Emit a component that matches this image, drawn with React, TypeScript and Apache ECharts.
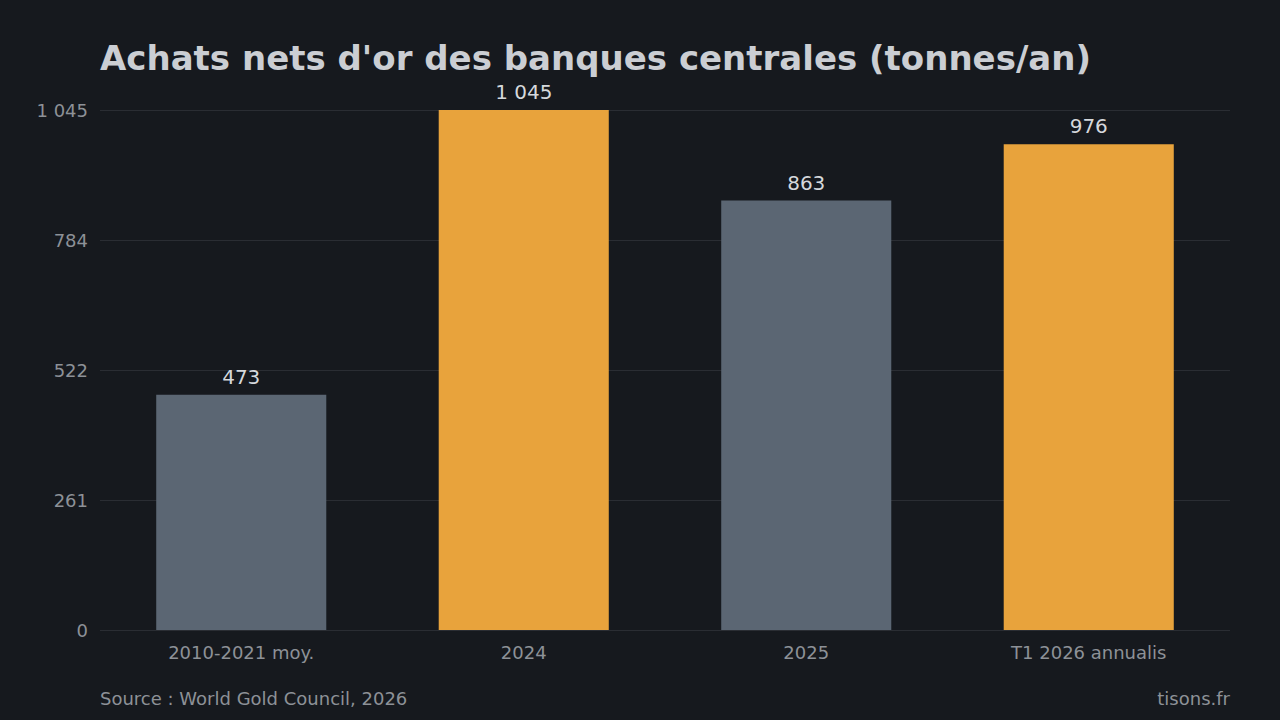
import React, { useEffect, useRef } from "react";
import * as echarts from "echarts";

const categories = ["2010-2021 moy.", "2024", "2025", "T1 2026 annualis"];
const values = [473, 1045, 863, 976];
const barColors = ["#5b6673", "#e8a33c", "#5b6673", "#e8a33c"];
const yTickLabels = ["0", "261", "522", "784", "1 045"];
const yMax = 1045;
const yInterval = yMax / 4;

const fmt = (v: number) => String(Math.round(v)).replace(/\B(?=(\d{3})+(?!\d))/g, " ");

export default function App() {
  const ref = useRef<HTMLDivElement>(null);
  useEffect(() => {
    if (!ref.current) return;
    const chart = echarts.init(ref.current, null, { renderer: "svg" });
    const font = "DejaVu Sans";
    chart.setOption({
      animation: false,
      backgroundColor: "#16191e",
      textStyle: { fontFamily: font },
      title: {
        text: "Achats nets d'or des banques centrales (tonnes/an)",
        left: 100,
        top: 41,
        padding: 0,
        textStyle: { fontFamily: font, fontSize: 34, fontWeight: "bold", color: "#cbced3" },
      },
      grid: { left: 100, right: 50, top: 110, bottom: 90, containLabel: false },
      xAxis: {
        type: "category",
        data: categories,
        axisLine: { show: false },
        axisTick: { show: false },
        axisLabel: { color: "#8d9197", fontSize: 18, margin: 13, fontFamily: font },
      },
      yAxis: {
        type: "value",
        min: 0,
        max: yMax,
        interval: yInterval,
        axisLine: { show: false },
        axisTick: { show: false },
        splitLine: { lineStyle: { color: "#2a2d33", width: 1 } },
        axisLabel: {
          color: "#8d9197",
          fontSize: 18,
          margin: 12,
          fontFamily: font,
          formatter: (v: number) => yTickLabels[Math.round(v / yInterval)] ?? "",
        },
      },
      series: [
        {
          type: "bar",
          barWidth: "60.2%",
          data: values.map((v, i) => ({ value: v, itemStyle: { color: barColors[i] } })),
          label: {
            show: true,
            position: "top",
            distance: 8,
            color: "#d5d8dc",
            fontSize: 20,
            fontFamily: font,
            formatter: (p: any) => fmt(p.value),
          },
        },
      ],
      graphic: [
        {
          type: "text",
          left: 100,
          top: 689,
          style: { text: "Source : World Gold Council, 2026", fill: "#8d9197", fontSize: 18, fontFamily: font },
        },
        {
          type: "text",
          right: 50,
          top: 689,
          style: { text: "tisons.fr", fill: "#8d9197", fontSize: 18, fontFamily: font },
        },
      ],
    });
    return () => chart.dispose();
  }, []);
  return <div ref={ref} style={{ position: "absolute", left: 0, top: 0, width: 1280, height: 720 }} />;
}
